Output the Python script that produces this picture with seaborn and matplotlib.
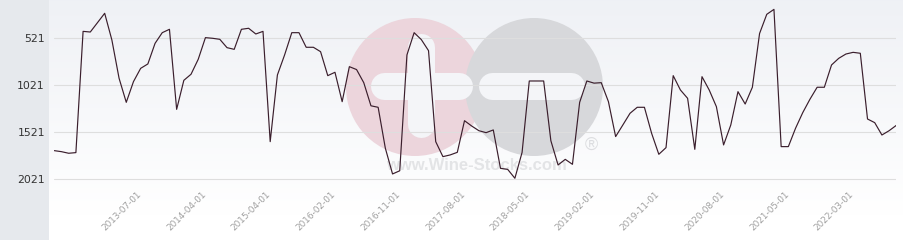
import numpy as np
import pandas as pd
import matplotlib
matplotlib.use("Agg")
import matplotlib.pyplot as plt
import matplotlib.transforms as mtransforms
from matplotlib.patches import Circle, Rectangle
import seaborn as sns

# ---- data (rank, lower is better) ----
rank = [
    1721, 1732, 1749, 1742, 447, 454, 354, 254, 539, 948,
    1205, 984, 842, 795, 575, 461, 425, 1280, 970, 905,
    745, 514, 521, 532, 621, 639, 425, 414, 475, 447,
    1625, 913, 699, 461, 461, 617, 617, 664, 920, 884,
    1198, 824, 855, 995, 1242, 1258, 1695, 1970, 1936, 699,
    461, 535, 653, 1625, 1785, 1767, 1739, 1401, 1458, 1508,
    1529, 1500, 1910, 1921, 2016, 1740, 977, 977, 977, 1615,
    1874, 1814, 1867, 1205, 977, 1000, 995, 1198, 1571, 1447,
    1322, 1258, 1258, 1536, 1760, 1689, 920, 1073, 1162, 1707,
    931, 1073, 1251, 1660, 1447, 1091, 1223, 1044, 470, 265,
    212, 1678, 1678, 1482, 1315, 1172, 1044, 1044, 806, 735,
    689, 671, 681, 1383, 1422, 1554, 1508, 1451,
]
x_labels = ["2013-07-01", "2014-04-01", "2015-04-01", "2016-02-01",
            "2016-11-01", "2017-08-01", "2018-05-01", "2019-02-01",
            "2019-11-01", "2020-08-01", "2021-05-01", "2022-03-01"]
y_ticks = [521, 1021, 1521, 2021]

df = pd.DataFrame({"point": np.arange(len(rank)), "rank": rank})

sns.set_style("white")
plt.rcParams["font.family"] = ["DejaVu Sans"]

W, H = 904, 240
fig = plt.figure(figsize=(W / 100, H / 100), dpi=100)
fig.patch.set_facecolor("white")

# ---- background / decoration layer in pixel coordinates ----
bg = fig.add_axes([0, 0, 1, 1], zorder=0)
bg.set_xlim(0, W)
bg.set_ylim(H, 0)
bg.axis("off")
top_c = np.array([0.937, 0.945, 0.962])
bot_c = np.array([1.0, 1.0, 1.0])
t = np.clip(np.linspace(0, 1, 240) / (215 / 240), 0, 1)[:, None]
grad = top_c[None, :] * (1 - t) + bot_c[None, :] * t
grad = np.repeat(grad[:, None, :], 2, axis=1)
bg.imshow(grad, extent=(49, W, H, 0), aspect="auto", interpolation="bilinear", zorder=0)
bg.add_patch(Rectangle((0, 0), 49, H, facecolor="#e6e9ed", edgecolor="none", zorder=1))

# watermark
bg.add_patch(Circle((415, 87), 69, facecolor="#ecd5dc", edgecolor="none", zorder=2))
bg.add_patch(Circle((534, 87), 69, facecolor="#d7d8db", edgecolor="none", zorder=2))
bar_c = "#f4f5f8"
bar_w = 27 * 0.72
bg.plot([384, 459], [85.5, 85.5], color=bar_c, lw=bar_w, solid_capstyle="round", zorder=3)
bg.plot([492, 571], [85.5, 85.5], color=bar_c, lw=bar_w, solid_capstyle="round", zorder=3)
bg.plot([421.5, 421.5], [47, 124], color=bar_c, lw=bar_w, solid_capstyle="round", zorder=3)
bg.text(476, 166, "www.Wine-Stocks.com", ha="center", va="center", fontsize=12,
        fontweight="bold", color="#e3e4e6", family=["Liberation Sans", "DejaVu Sans"], zorder=4)
bg.text(591, 145, "\u00ae", ha="center", va="center", fontsize=13,
        color="#dcdde0", family=["Liberation Sans", "DejaVu Sans"], zorder=4)

# ---- main chart ----
left_px, right_px, bottom_px = 54.3, 896.3, 188
ax = fig.add_axes([left_px / W, (H - bottom_px) / H, (right_px - left_px) / W, bottom_px / H], zorder=1)
ax.set_facecolor("none")
sns.lineplot(data=df, x="point", y="rank", ax=ax, color="#3a1e2c", linewidth=0.85)
ax.set_xlim(0, len(rank) - 1)
ax.set_ylim(2120, 112)
ax.set_yticks(y_ticks)
ax.set_yticklabels([str(v) for v in y_ticks])
tick_pos = [12 + 9 * k for k in range(len(x_labels))]
ax.set_xticks(tick_pos)
ax.set_xticklabels(x_labels, rotation=45, ha="right", va="top", rotation_mode="anchor")
ax.tick_params(axis="x", length=0, pad=2, labelsize=6.4, labelcolor="#a0a0a0")
ax.tick_params(axis="y", length=0, pad=6.8, labelsize=7.8, labelcolor="#333333")
shift = mtransforms.ScaledTranslation(-4 / 100, 1 / 100, fig.dpi_scale_trans)
for lab in ax.get_xticklabels():
    lab.set_transform(lab.get_transform() + shift)
ax.grid(axis="y", color="#dedede", linewidth=0.8)
ax.grid(axis="x", visible=False)
ax.set_axisbelow(True)
for s in ax.spines.values():
    s.set_visible(False)
ax.set_xlabel("")
ax.set_ylabel("")

fig.savefig("out.png", dpi=100)
